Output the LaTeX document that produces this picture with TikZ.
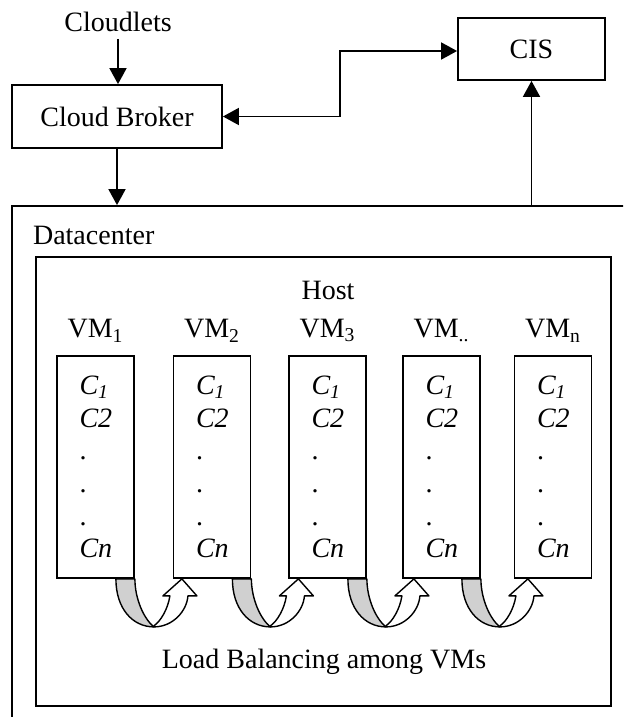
\documentclass[tikz,border=0pt]{standalone}
\usepackage{fontspec}
\setmainfont{Liberation Serif}
\usetikzlibrary{arrows.meta,positioning}
\definecolor{lbgray}{HTML}{D0D0D0}

\begin{document}
\begin{tikzpicture}[x=0.5pt,y=-0.5pt,every node/.style={font=\fontsize{14pt}{16.3pt}\selectfont},
  box/.style={draw,line width=0.9pt,fill=white,inner sep=0pt},
  vmbox/.style={box,minimum width=38.5pt,minimum height=111pt,text width=16pt,align=left},
  arr/.style={-{Triangle[length=8pt,width=8.5pt]},line width=0.9pt},
  twoway/.style={{Triangle[length=8pt,width=8.5pt]}-{Triangle[length=8pt,width=8.5pt]},line width=0.9pt},
  swing/.style={draw,line width=0.7pt,line join=round}]
\clip (0,0) rectangle (623,717);
\node[box,minimum width=324pt,minimum height=277pt] (dc) at (336,483) {};
\node[box,minimum width=287.5pt,minimum height=224.5pt] (hostbox) at (323.5,481.5) {};
\node (cloudlets) at (118,22) {Cloudlets};
\node[box,minimum width=105pt,minimum height=31.5pt] (broker) at (117,116.5) {Cloud Broker};
\node[box,minimum width=73.5pt,minimum height=31pt] (cis) at (531.5,49) {CIS};
\node[anchor=west] (dclab) at (26,235) {Datacenter};
\node (host) at (328,290) {Host};
\foreach \i/\x/\s in {1/95.5/1,2/212/2,3/327.5/3,4/441.5/..,5/553/n}{
  \node[vmbox] (vm\i) at (\x,467) {\textit{C\textsubscript{1}}\\\textit{C2}\\.\\.\\.\\\textit{Cn}};
  \node[above=3pt of vm\i] (vml\i) {VM\textsubscript{\s}};
}
% load balancing swings between neighbouring VMs
\foreach \i in {1,...,4}{
  \begin{scope}[shift={(vm\i.south east)}]
  \draw[swing,fill=white] (19,48) .. controls (38,48) and (52,32) .. (53,17) -- (62,17) -- (47,0) -- (28,17) -- (35,17) .. controls (33,30) and (26,42) .. (19,47) -- cycle;
  \draw[swing,fill=lbgray] (-19,0) .. controls (-19,30) and (-2,48) .. (19,48) .. controls (9,40) and (0,20) .. (0,0) -- cycle;
  \end{scope}}
\node (lb) at (324,662) {Load Balancing among VMs};
\coordinate (bend) at (340,116.5);
\draw[arr] (cloudlets.south) -- (cloudlets.south |- broker.north);
\draw[twoway] (broker.east) -- (bend) |- ([yshift=-1pt]cis.west);
\draw[arr] (broker.south) -- (broker.south |- dc.north);
\draw[arr] (cis.south |- dc.north) -- (cis.south);
\end{tikzpicture}
\end{document}
